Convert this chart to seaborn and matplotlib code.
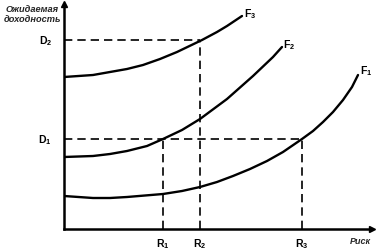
import matplotlib
matplotlib.use("Agg")
import matplotlib.pyplot as plt
import seaborn as sns
import pandas as pd

# Curve points (risk, expected return), abstract units
f3_risk = [0, 29, 63, 79, 96, 113, 138, 153, 163, 178]
f3_ret = [152, 154, 160, 164, 170, 177, 189, 197, 203, 213]
f2_risk = [0, 29, 46, 63, 83, 99, 118, 136, 163, 189, 209, 218]
f2_ret = [72, 73, 75, 78, 83, 90, 99, 110, 130, 153, 172, 182]
f1_risk = [0, 29, 46, 63, 99, 118, 136, 153, 169, 186, 203, 219, 238, 249, 259,
           269, 279, 288, 294]
f1_ret = [33, 31, 31, 32, 35, 38, 42, 47, 53, 60, 68, 77, 90, 98, 107,
          117, 129, 142, 154]

risk_levels = [99, 136, 238]
risk_labels = ["R$_1$", "R$_2$", "R$_3$"]
return_levels = [90, 189]
return_labels = ["D$_1$", "D$_2$"]
curve_labels = ["F$_3$", "F$_2$", "F$_1$"]

sns.set_style("white")
plt.rcParams["font.family"] = ["Liberation Sans", "DejaVu Sans"]
plt.rcParams["mathtext.default"] = "regular"

W, H = 382, 253
fig = plt.figure(figsize=(W / 100, H / 100), dpi=100)
ax = fig.add_axes([64 / W, (H - 230) / H, (372 - 64) / W, (230 - 5) / H])
ax.set_xlim(0, 308)
ax.set_ylim(0, 225)

frames = []
for name, xs, ys in [("F3", f3_risk, f3_ret), ("F2", f2_risk, f2_ret), ("F1", f1_risk, f1_ret)]:
    frames.append(pd.DataFrame({"risk": xs, "ret": ys, "curve": name}))
df = pd.concat(frames)
sns.lineplot(data=df, x="risk", y="ret", hue="curve", palette=["black"] * 3,
             linewidth=1.7, legend=False, ax=ax, sort=False, estimator=None,
             solid_joinstyle="round", solid_capstyle="round")

dash = dict(color="black", linewidth=1.2, linestyle=(0, (5, 3)))
ax.plot([0, risk_levels[1]], [return_levels[1]] * 2, **dash)
ax.plot([risk_levels[1]] * 2, [0, return_levels[1]], **dash)
ax.plot([0, risk_levels[2]], [return_levels[0]] * 2, **dash)
ax.plot([risk_levels[0]] * 2, [0, return_levels[0]], **dash)
ax.plot([risk_levels[2]] * 2, [0, return_levels[0]], **dash)

for s in ["top", "right"]:
    ax.spines[s].set_visible(False)
for s in ["left", "bottom"]:
    ax.spines[s].set_linewidth(1.8)
    ax.spines[s].set_color("black")
ax.set_xticks([])
ax.set_yticks([])
ax.set_xlabel("")
ax.set_ylabel("")
ax.plot(1, 0, ">k", markersize=5, transform=ax.transAxes, clip_on=False)
ax.plot(0, 1, "^k", markersize=5, transform=ax.transAxes, clip_on=False)

tk = dict(fontsize=7.5, fontweight="bold", color="black")
for x, lab in zip(risk_levels, risk_labels):
    ax.text(x, -7, lab, ha="center", va="top", **tk)
for y, lab in zip(return_levels, return_labels):
    ax.text(-12, y, lab, ha="right", va="center", **tk)
for (x, y), lab in zip([(180, 216), (219, 185), (296, 159)], curve_labels):
    ax.text(x, y, lab, ha="left", va="center", **tk)

ax.text(-32, 225, "Ожидаемая\nдоходность", ha="center", va="top", fontsize=6.7,
        fontweight="bold", style="italic", linespacing=1.2)
ax.text(296, -7, "Риск", ha="center", va="top", fontsize=6.5,
        fontweight="bold", style="italic")

fig.savefig("out.png", dpi=100)
